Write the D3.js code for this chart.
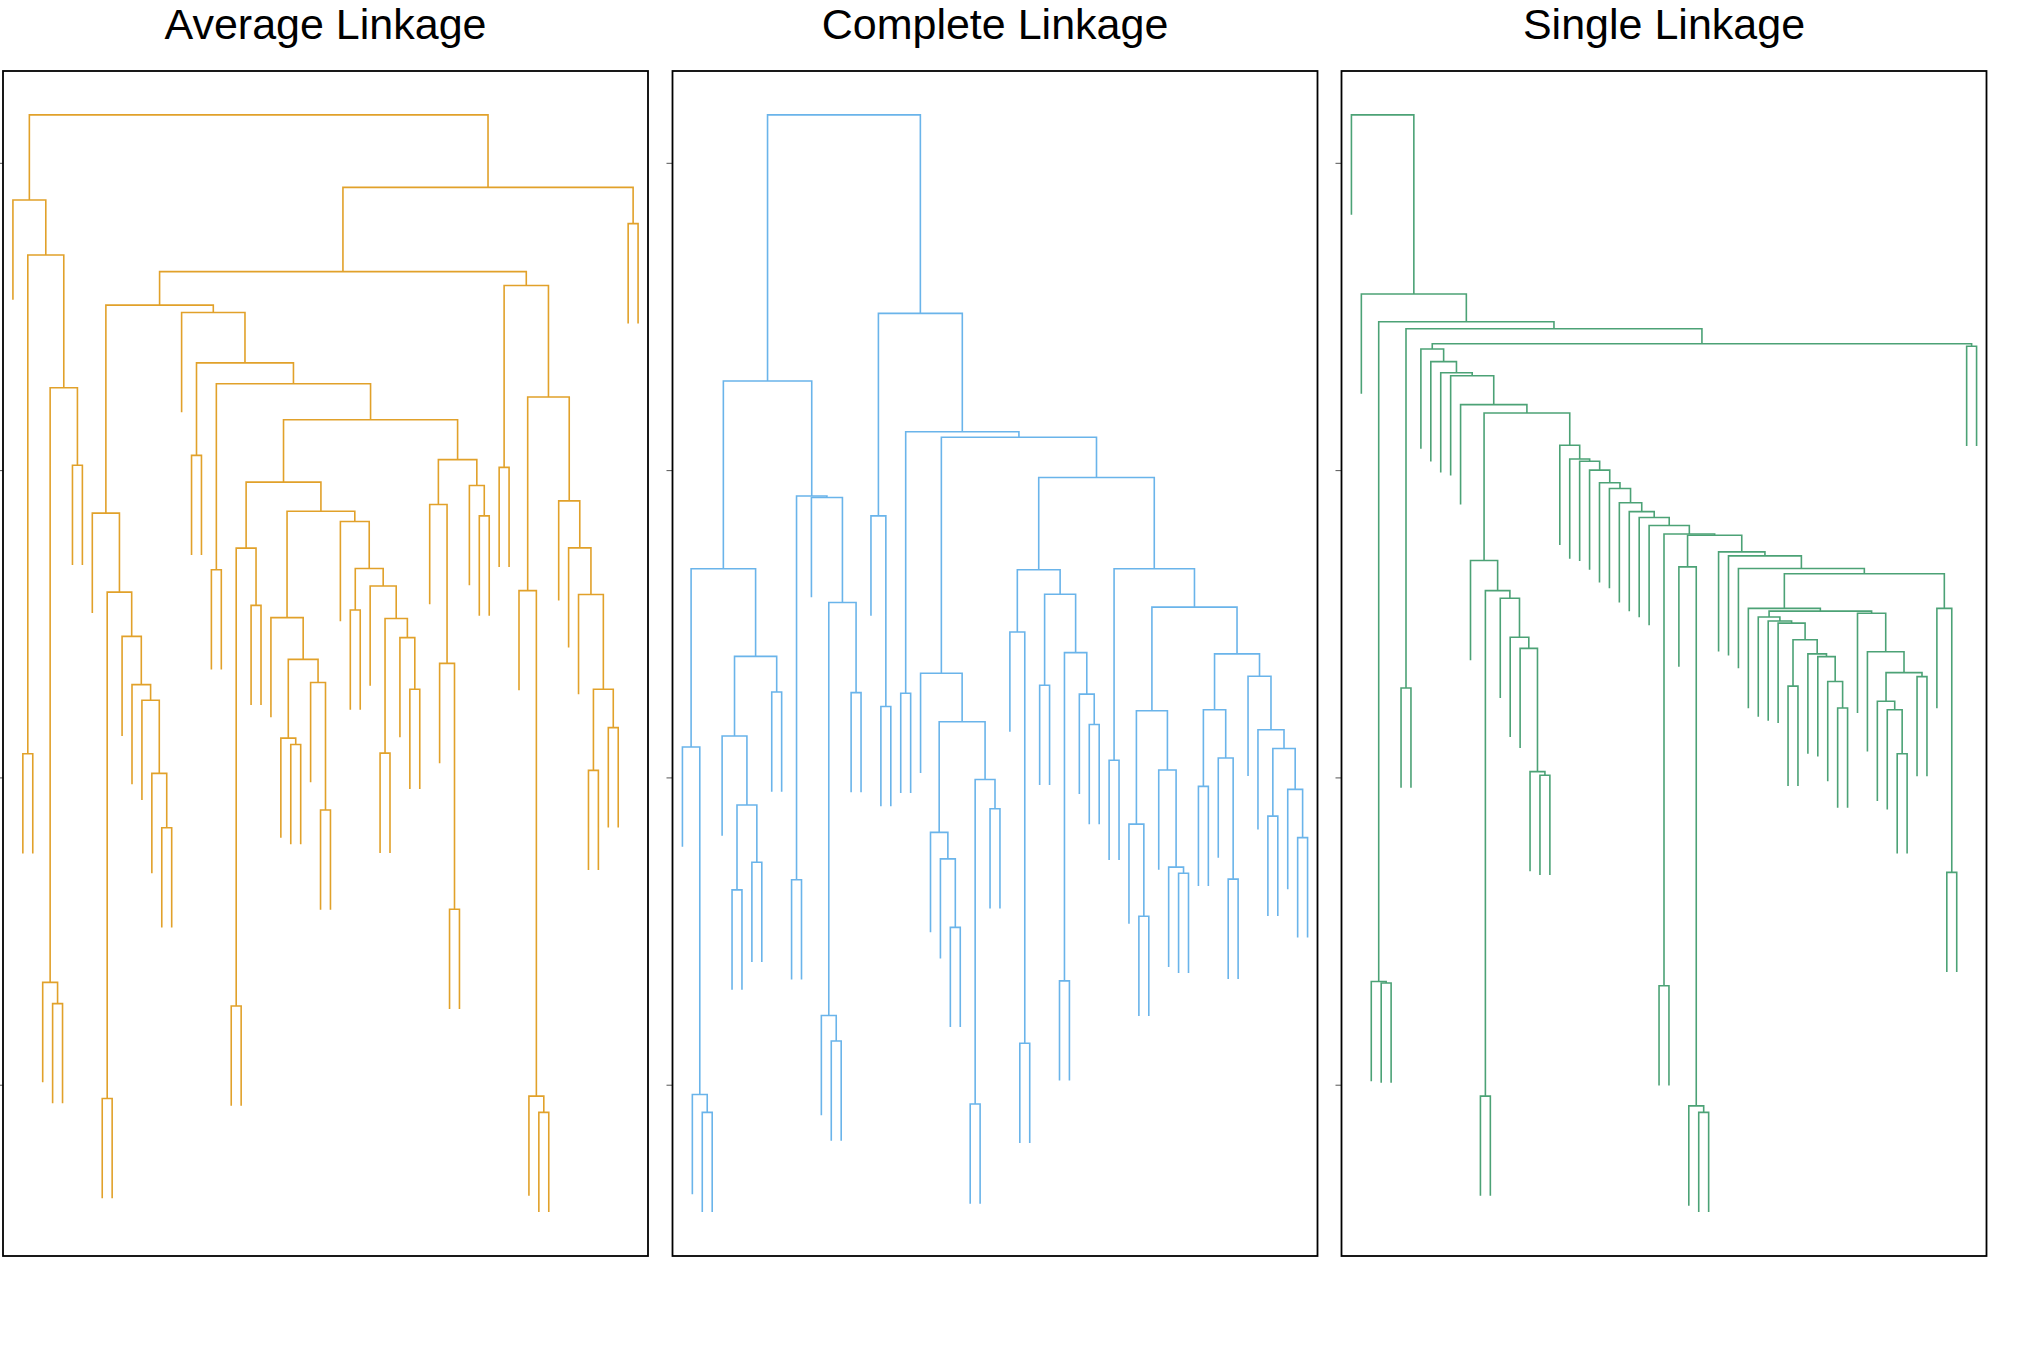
<!DOCTYPE html>
<html>
<head>
<meta charset="utf-8">
<script src="https://cdn.jsdelivr.net/npm/d3@7"></script>
<style>
  body { margin: 0; background: #ffffff; }
  text { font-family: "Liberation Sans", Arial, sans-serif; }
</style>
</head>
<body>
<svg id="chart"></svg>
<script>
// each merge is [height, left, right]; a 0 stands for a single leaf

var avgTree =
[4.156,
 [3.879, 0,
  [3.700,
   [2.077, 0, 0],
   [3.268,
    [1.333, 0, [1.264, 0, 0]],
    [3.016, 0, 0]]]],
 [3.920,
  [3.646,
   [3.537,
    [2.860, 0,
     [2.603,
      [0.955, 0, 0],
      [2.459, 0, [2.302, 0, [2.251, 0, [2.013, 0, [1.836, 0, 0]]]]]]],
    [3.513, 0,
     [3.349,
      [3.048, 0, 0],
      [3.281,
       [2.676, 0, 0],
       [3.164,
        [2.961,
         [2.746, [1.256, 0, 0], [2.560, 0, 0]],
         [2.866,
          [2.520, 0,
           [2.384,
            [2.128, 0, [2.107, 0, 0]],
            [2.309, 0, [1.894, 0, 0]]]],
          [2.833, 0,
           [2.680,
            [2.545, 0, 0],
            [2.623, 0,
             [2.517,
              [2.079, 0, 0],
              [2.455, 0, [2.287, 0, 0]]]]]]]],
        [3.034,
         [2.888, 0, [2.371, 0, [1.571, 0, 0]]],
         [2.950, 0, [2.851, 0, 0]]]]]]]],
   [3.601,
    [3.009, 0, 0],
    [3.238,
     [2.608, 0, [0.963, 0, [0.910, 0, 0]]],
     [2.900, 0, [2.747, 0, [2.595, 0, [2.287, [2.023, 0, 0], [2.162, 0, 0]]]]]]]],
  [3.802, 0, 0]]];

var completeTree =
[4.156,
 [3.290,
  [2.679,
   [2.099, 0, [0.968, 0, [0.910, 0, 0]]],
   [2.394,
    [2.135, 0, [1.910, [1.634, 0, 0], [1.724, 0, 0]]],
    [2.278, 0, 0]]],
  [2.916,
   [1.667, 0, 0],
   [2.911, 0,
    [2.569,
     [1.225, 0, [1.142, 0, 0]],
     [2.276, 0, 0]]]]],
 [3.510,
  [2.851, 0, [2.231, 0, 0]],
  [3.125,
   [2.274, 0, 0],
   [3.107,
    [2.339, 0,
     [2.181,
      [1.821, 0, [1.735, 0, [1.512, 0, 0]]],
      [1.993, [0.937, 0, 0], [1.898, 0, 0]]]],
    [2.976,
     [2.676,
      [2.473, 0, [1.135, 0, 0]],
      [2.596,
       [2.300, 0, 0],
       [2.406,
        [1.338, 0, 0],
        [2.271, 0, [2.172, 0, 0]]]]],
     [2.679,
      [2.056, 0, 0],
      [2.554,
       [2.217,
        [1.848, 0, [1.548, 0, 0]],
        [2.024, 0, [1.708, 0, [1.688, 0, 0]]]],
       [2.402,
        [2.220, [1.971, 0, 0], [2.063, 0, [1.669, 0, 0]]],
        [2.329, 0, [2.155, 0, [2.094, [1.874, 0, 0], [1.961, 0, [1.804, 0, 0]]]]]]]]]]]]];

var singleTree =
[4.156, 0,
 [3.573, 0,
  [3.483,
   [1.336, 0, [1.331, 0, 0]],
   [3.460,
    [2.291, 0, 0],
    [3.411,
     [3.394, 0,
      [3.353, 0,
       [3.317, 0,
        [3.307, 0,
         [3.213, 0,
          [3.186,
           [2.706, 0,
            [2.608, [0.963, 0, 0],
             [2.583, 0,
              [2.456, 0,
               [2.420, 0,
                [2.019, 0, [2.007, 0, 0]]]]]]],
           [3.081, 0, [3.036, 0, [3.029, 0, [3.000, 0, [2.959, 0,
            [2.940, 0, [2.894, 0, [2.865, 0, [2.846, 0, [2.820, 0,
             [2.792,
              [1.322, 0, 0],
              [2.788,
               [2.685, 0, [0.931, 0, [0.910, 0, 0]]],
               [2.734, 0, [2.721, 0, [2.680, 0,
                [2.663,
                 [2.550, 0,
                  [2.541,
                   [2.522, 0, [2.509, 0, [2.502, 0,
                    [2.448,
                     [2.297, 0, 0],
                     [2.402, 0, [2.393, 0, [2.312, 0, [2.226, 0, 0]]]]]]]],
                   [2.534, 0, [2.409, 0,
                    [2.341,
                     [2.248, 0, [2.220, 0, [2.077, 0, 0]]],
                     [2.328, 0, 0]]]]]],
                 [2.550, 0, [1.691, 0, 0]]]]]]]]]]]]]]]]]]]]]]]],
     [3.403, 0, 0]]]]]];

var titles = ["Average Linkage", "Complete Linkage", "Single Linkage"];
var colors = ["#E1A12A", "#6AB4EA", "#4CA276"];
var tickValues = [1, 2, 3, 4];

//chart area
var svgWidth = 2018;
var svgHeight = 1350;
var boxTop = 71;
var boxBottom = 1256;
var boxWidth = 645;
var boxLefts = [3, 672.5, 1341.5];

var svg = d3.select("#chart")
    .attr("width", svgWidth)
    .attr("height", svgHeight);

function drawTree(tree, i) {
    var root = d3.hierarchy(tree, d => Array.isArray(d) ? d.slice(1) : null);
    var leaves = root.leaves();
    var n = leaves.length;
    var inner = root.descendants().filter(d => d.children);
    var hMax = d3.max(inner, d => d.data[0]);
    var hMin = d3.min(inner, d => d.data[0]);
    // leaves hang 10% of the height range below their merge
    var hang = 0.1 * (hMax - hMin);
    var lo = hMin - hang;
    var pad = 0.04 * (hMax - lo);

    var xScale = d3.scaleLinear()
        .domain([0, n + 1])
        .range([boxLefts[i], boxLefts[i] + boxWidth]);
    var yScale = d3.scaleLinear()
        .domain([lo - pad, hMax + pad])
        .range([boxBottom, boxTop]);

    leaves.forEach((d, k) => { d.px = xScale(k + 1); });
    root.eachAfter(d => {
        if (d.children) {
            d.px = d3.mean(d.children, c => c.px);
            d.h = d.data[0];
        }
    });
    leaves.forEach(d => { d.h = d.parent.data[0] - hang; });

    var g = svg.append("g");

    g.selectAll("path.link")
        .data(inner)
        .enter()
        .append("path")
        .attr("class", "link")
        .attr("d", d => {
            var a = d.children[0], b = d.children[1];
            return `M${a.px},${yScale(a.h)}V${yScale(d.h)}H${b.px}V${yScale(b.h)}`;
        })
        .attr("fill", "none")
        .attr("stroke", colors[i])
        .attr("stroke-width", 1.6);

    var yAxis = d3.axisLeft(yScale)
        .tickValues(tickValues)
        .tickSize(6)
        .tickFormat("");
    var axisG = g.append("g")
        .attr("transform", `translate(${boxLefts[i]},0)`)
        .call(yAxis);
    axisG.select(".domain").remove();
    axisG.selectAll("line").attr("stroke", "#555").attr("stroke-width", 1);

    g.append("rect")
        .attr("x", boxLefts[i])
        .attr("y", boxTop)
        .attr("width", boxWidth)
        .attr("height", boxBottom - boxTop)
        .attr("fill", "none")
        .attr("stroke", "#000")
        .attr("stroke-width", 1.8);

    g.append("text")
        .attr("x", boxLefts[i] + boxWidth / 2)
        .attr("y", 39)
        .attr("text-anchor", "middle")
        .attr("font-size", 43)
        .attr("fill", "#000")
        .text(titles[i]);
}

[avgTree, completeTree, singleTree].forEach((t, i) => drawTree(t, i));
</script>
</body>
</html>
